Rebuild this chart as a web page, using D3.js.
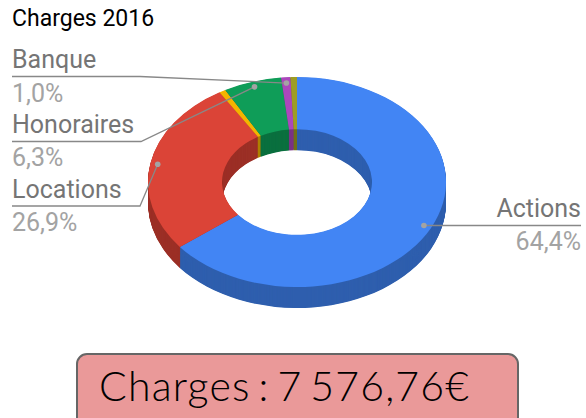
<!DOCTYPE html>
<html><head><meta charset="utf-8">
<script src="https://cdn.jsdelivr.net/npm/d3@7/dist/d3.min.js"></script>
<style>html,body{margin:0;padding:0;background:#fff}svg{display:block}text{font-family:Roboto,sans-serif}</style>
</head><body><svg id="c" width="586" height="418"></svg>
<script>
const chartTitle = "Charges 2016";
const categories = ["Actions","Locations","Divers A","Honoraires","Banque","Divers B"];
const shares = [64.4,26.9,0.7,6.3,1.0,0.7];
const colors = ["#4285f4","#db4437","#f4b400","#0f9d58","#ab47bc","#9e9d24"];
const percentLabels = {Actions:"64,4%",Locations:"26,9%",Honoraires:"6,3%",Banque:"1,0%"};
const totalLabel = "Charges : 7 576,76€";

const svg = d3.select("#c");
const cx=297, cy=182, rx=149, ry=105, irx=75, depth=21;
const k=ry/rx;
const pie=d3.pie().sort(null).value(d=>d.v);
const arcs=pie(categories.map((c,i)=>({c,v:shares[i],col:colors[i]})));
const arc=d3.arc().innerRadius(irx).outerRadius(rx);

svg.append("text").text(chartTitle).attr("x",12).attr("y",26).attr("font-size",23).attr("fill","#000");

const pieG=svg.append("g");
for(let dy=depth;dy>0;dy-=0.5){
  pieG.append("g").attr("transform",`translate(${cx},${cy+dy}) scale(1,${k})`)
    .selectAll("path").data(arcs).join("path").attr("d",arc)
    .attr("fill",d=>d3.rgb(d.data.col).darker(0.95).formatHex());
}
pieG.append("g").attr("transform",`translate(${cx},${cy}) scale(1,${k})`)
  .selectAll("path").data(arcs).join("path").attr("d",arc).attr("fill",d=>d.data.col);

const radial=(d,frac)=>{const a=(d.startAngle+d.endAngle)/2;const r=rx*frac;return [cx+r*Math.sin(a),cy-r*k*Math.cos(a)];};
const byName=Object.fromEntries(arcs.map(d=>[d.data.c,d]));
const leaders=[
 {c:"Banque",frac:.945,knee:[140,76.5],end:12,ly:76.5,lx:12,anchor:"start",nameY:68,pctY:102},
 {c:"Honoraires",frac:.95,knee:[141,141.5],end:12,ly:141.5,lx:12,anchor:"start",nameY:133,pctY:166},
 {c:"Locations",frac:.95,knee:[140,206],end:12,ly:206,lx:12,anchor:"start",nameY:198,pctY:231},
 {c:"Actions",frac:.947,knee:null,end:581,ly:225.5,lx:581,anchor:"end",nameY:217,pctY:250}
];
leaders.forEach(l=>{
  const p=radial(byName[l.c],l.frac);
  const pts=l.knee?[[l.end,l.ly],l.knee,p]:[[l.end,l.ly],[p[0],l.ly]];
  const end=pts[pts.length-1];
  svg.append("path").attr("d",d3.line()(pts)).attr("fill","none").attr("stroke","#888").attr("stroke-width",1.3);
  svg.append("circle").attr("cx",end[0]).attr("cy",end[1]).attr("r",2.8).attr("fill","#a3a3a3");
  svg.append("text").text(l.c).attr("x",l.lx).attr("y",l.nameY).attr("text-anchor",l.anchor).attr("font-size",25).attr("fill","#757575");
  svg.append("text").text(percentLabels[l.c]).attr("x",l.lx).attr("y",l.pctY).attr("text-anchor",l.anchor).attr("font-size",25).attr("fill","#a3a3a3");
});

svg.append("rect").attr("x",77).attr("y",354).attr("width",441).attr("height",80).attr("rx",10)
  .attr("fill","#ea9999").attr("stroke","#666").attr("stroke-width",2);
svg.append("text").text(totalLabel).attr("x",99).attr("y",401).attr("font-size",41)
  .style("font-family","Lato").attr("font-weight",300).style("letter-spacing","1.2px").style("word-spacing","-4.5px").attr("fill","#000");
</script></body></html>
